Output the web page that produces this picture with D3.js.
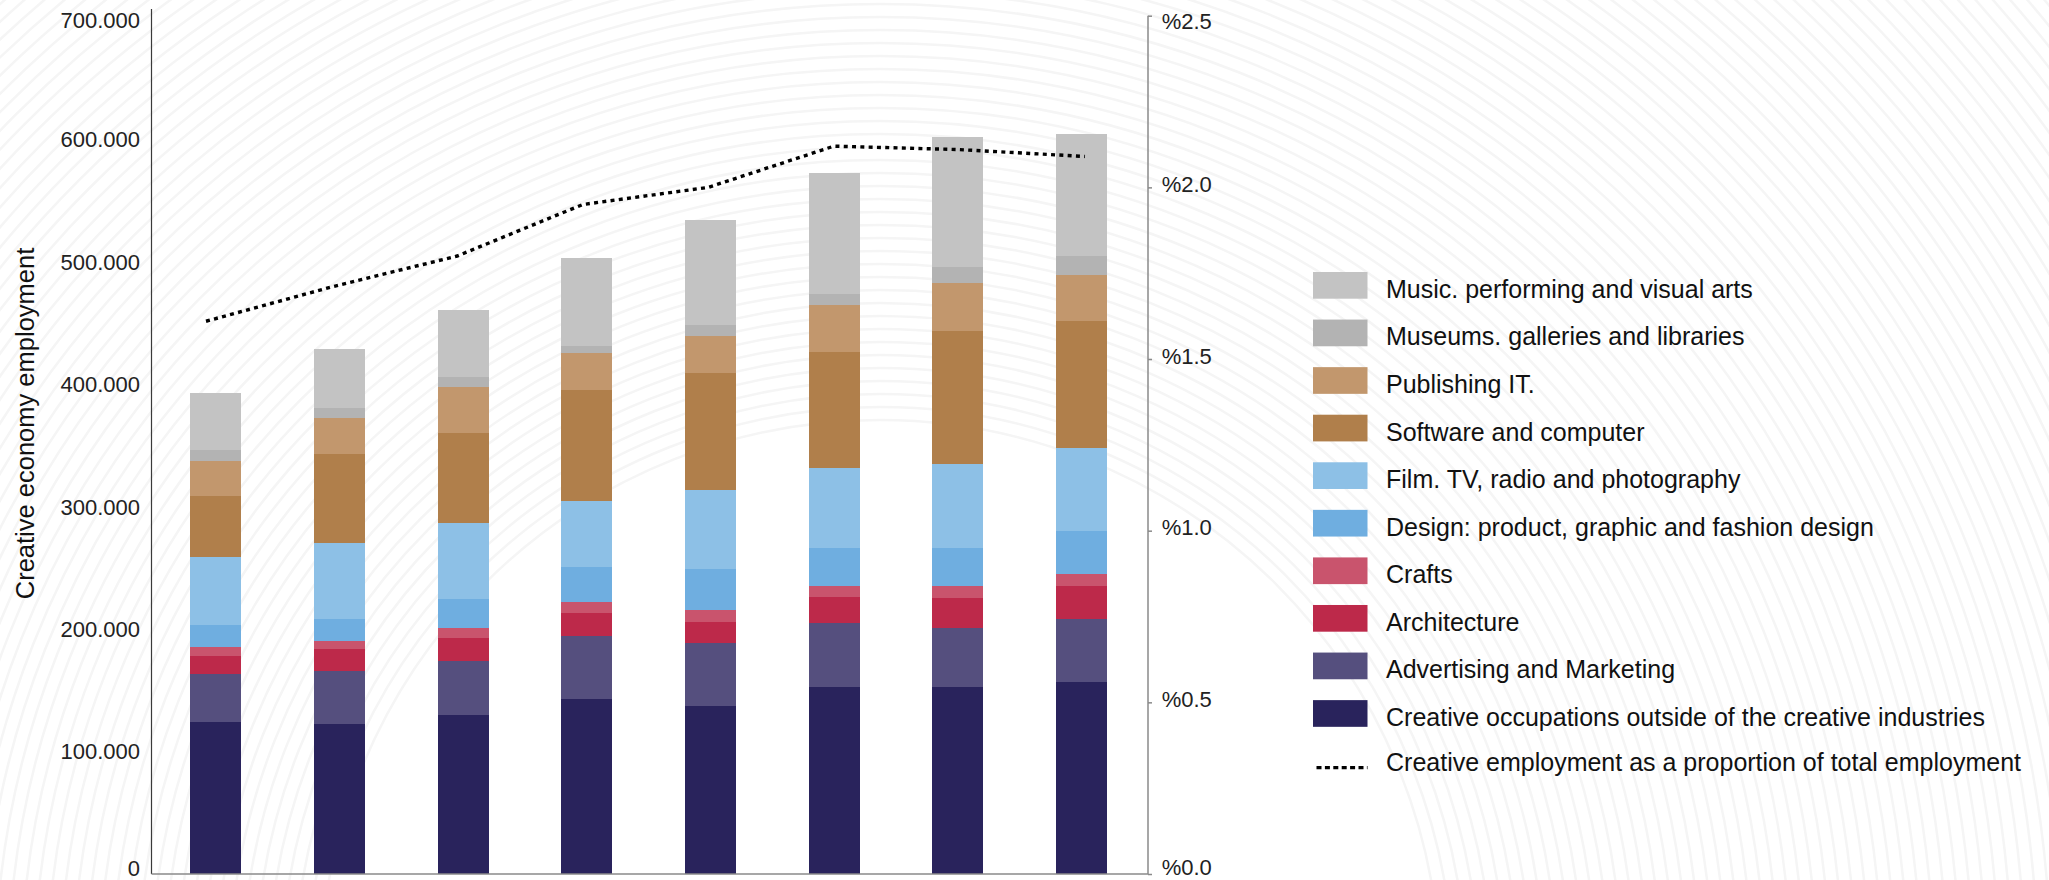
<!DOCTYPE html>
<html>
<head>
<meta charset="utf-8">
<script src="https://cdn.jsdelivr.net/npm/d3@7"></script>
<style>
  html, body { margin: 0; padding: 0; background: #ffffff; }
  svg { display: block; font-family: "Liberation Sans", Arial, Helvetica, sans-serif; }
</style>
</head>
<body>
<svg id="chart" width="2049" height="880"></svg>
<script>
// ---- data -----------------------------------------------------------------
const periods = ["P1", "P2", "P3", "P4", "P5", "P6", "P7", "P8"];

// employment by group, stacked from the bottom up
const creativeOccupations = [124200, 122600, 130000, 143000, 137300, 152900, 152900, 156900];
const advertisingMarketing = [39300, 43300, 44100, 51500, 51500, 52300, 48200, 51500];
const architecture         = [14700, 18000, 18800, 18800, 17200, 21200, 24500, 27300];
const crafts               = [7300, 6600, 8200, 9000, 9800, 9000, 9800, 9500];
const designGroup          = [18000, 17900, 23700, 28600, 33500, 31100, 31100, 35200];
const filmTvRadio          = [55600, 61900, 62100, 54000, 64600, 65400, 68600, 67800];
const softwareComputer     = [49900, 73000, 73600, 90700, 95600, 94800, 108700, 103800];
const publishing           = [28600, 29400, 37600, 30300, 30300, 38400, 39300, 37600];
const museumsLibraries     = [9000, 8200, 8100, 5700, 9000, 9000, 13100, 15600];
const musicArts            = [46600, 48200, 54800, 71900, 85800, 98900, 106200, 99700];

// creative employment as % of total employment (right axis)
const creativeShare = [1.61, 1.71, 1.80, 1.95, 2.00, 2.12, 2.11, 2.09];

const seriesNames = [
  "Creative occupations outside of the creative industries",
  "Advertising and Marketing",
  "Architecture",
  "Crafts",
  "Design: product, graphic and fashion design",
  "Film. TV, radio and photography",
  "Software and computer",
  "Publishing IT.",
  "Museums. galleries and libraries",
  "Music. performing and visual arts"
];
const seriesValues = [
  creativeOccupations, advertisingMarketing, architecture, crafts, designGroup,
  filmTvRadio, softwareComputer, publishing, museumsLibraries, musicArts
];
const seriesColors = [
  "#29235c", "#554f7e", "#bd294a", "#c9546d", "#6faee0",
  "#8dc0e6", "#b07f4b", "#c2976d", "#b3b3b3", "#c3c3c3"
];
const lineLabel = "Creative employment as a proportion of total employment";

const leftTicks = [0, 100000, 200000, 300000, 400000, 500000, 600000, 700000];
const rightTicks = [0, 0.5, 1.0, 1.5, 2.0, 2.5];
const leftTitle = "Creative economy employment";

// ---- layout ---------------------------------------------------------------
const svg = d3.select("#chart");
const axisLeftX = 151.5, axisRightX = 1148, baseY = 874;

// faint contour pattern behind everything
const backdrop = svg.append("g")
  .attr("fill", "none")
  .attr("stroke", "#f5f5f5")
  .attr("stroke-width", 2.5);
backdrop.selectAll("circle")
  .data(d3.range(560, 1700, 13))
  .join("circle")
  .attr("cx", 880).attr("cy", 980).attr("r", d => d);

// ---- scales ---------------------------------------------------------------
const x = d3.scaleBand()
  .domain(periods)
  .range([154, 1143.5])
  .paddingInner(0.588)
  .paddingOuter(0.294);

// the share line runs on its own, slightly wider, point positions
const xLine = d3.scalePoint().domain(periods).range([206, 1085]);

const y = d3.scaleLinear().domain([0, 700000]).range([baseY, 17.6]);
const y2 = d3.scaleLinear().domain([0, 2.5]).range([baseY, 15.7]);

// ---- stacked bars ---------------------------------------------------------
const table = periods.map((p, i) => {
  const row = { period: p };
  seriesNames.forEach((name, k) => { row[name] = seriesValues[k][i]; });
  return row;
});
const stacked = d3.stack().keys(seriesNames)(table);

svg.append("g")
  .selectAll("g")
  .data(stacked)
  .join("g")
  .attr("fill", (d, i) => seriesColors[i])
  .selectAll("rect")
  .data(d => d)
  .join("rect")
  .attr("shape-rendering", "crispEdges")
  .attr("x", d => x(d.data.period))
  .attr("width", x.bandwidth())
  .attr("y", d => y(d[1]))
  .attr("height", d => y(d[0]) - y(d[1]));

// ---- axes -----------------------------------------------------------------
const thousands = d3.formatLocale({ decimal: ",", thousands: ".", grouping: [3], currency: ["", ""] }).format(",");

const gLeft = svg.append("g")
  .attr("transform", `translate(${axisLeftX},0)`)
  .call(d3.axisLeft(y).tickValues(leftTicks).tickSize(0).tickPadding(11.5).tickFormat(thousands));
gLeft.select(".domain").remove();
gLeft.selectAll("text")
  .attr("font-family", "Liberation Sans, Arial, sans-serif")
  .attr("font-size", 22)
  .attr("fill", "#222")
  .attr("y", d => d === 700000 ? 3 : (d === 0 ? -6 : 0));

svg.append("line")
  .attr("x1", axisLeftX).attr("x2", axisLeftX)
  .attr("y1", 9).attr("y2", baseY)
  .attr("stroke", "#3a3a3a").attr("stroke-width", 1.2);

const gRight = svg.append("g")
  .attr("transform", `translate(${axisRightX},0)`)
  .call(d3.axisRight(y2).tickValues(rightTicks).tickSize(4).tickPadding(9.7)
    .tickFormat(d => "%" + d3.format(".1f")(d)));
gRight.select(".domain").remove();
gRight.selectAll(".tick line").attr("stroke", "#8a8a8a").attr("stroke-width", 1.5);
gRight.selectAll("text")
  .attr("font-family", "Liberation Sans, Arial, sans-serif")
  .attr("font-size", 22)
  .attr("fill", "#222")
  .attr("y", d => d === 2.5 ? 6 : (d === 0 ? -7 : -3));

svg.append("line")
  .attr("x1", axisRightX).attr("x2", axisRightX)
  .attr("y1", 15.7).attr("y2", baseY)
  .attr("stroke", "#8a8a8a").attr("stroke-width", 1.5);

svg.append("line")
  .attr("x1", axisLeftX).attr("x2", axisRightX)
  .attr("y1", baseY).attr("y2", baseY)
  .attr("stroke", "#8a8a8a").attr("stroke-width", 1.5);

svg.append("text")
  .attr("transform", "translate(34,423.5) rotate(-90)")
  .attr("text-anchor", "middle")
  .attr("font-size", 25.5)
  .attr("fill", "#111")
  .text(leftTitle);

// ---- share line -----------------------------------------------------------
const shareLine = d3.line()
  .x((d, i) => xLine(periods[i]))
  .y(d => y2(d));

svg.append("path")
  .datum(creativeShare)
  .attr("d", shareLine)
  .attr("fill", "none")
  .attr("stroke", "#000")
  .attr("stroke-width", 3.4)
  .attr("stroke-dasharray", "4 4.3");

// ---- legend ---------------------------------------------------------------
const legendTop = 272, legendStep = 47.57, swatchW = 54.5, swatchH = 26.7;
const legendX = 1313, legendTextX = 1386;
const legendOrder = d3.range(seriesNames.length).reverse();

const legend = svg.append("g");
legendOrder.forEach((k, row) => {
  const top = legendTop + row * legendStep;
  legend.append("rect")
    .attr("x", legendX).attr("y", top)
    .attr("width", swatchW).attr("height", swatchH)
    .attr("fill", seriesColors[k]);
  legend.append("text")
    .attr("x", legendTextX).attr("y", top + swatchH / 2 + 3.5)
    .attr("dominant-baseline", "central")
    .attr("font-size", 25)
    .attr("fill", "#111")
    .text(seriesNames[k]);
});
{
  const row = seriesNames.length;
  const cy = legendTop + row * legendStep + swatchH / 2;
  legend.append("line")
    .attr("x1", legendX + 3.5).attr("x2", legendX + swatchW)
    .attr("y1", cy + 6.5).attr("y2", cy + 6.5)
    .attr("stroke", "#000").attr("stroke-width", 3.3)
    .attr("stroke-dasharray", "5 3.4");
  legend.append("text")
    .attr("x", legendTextX).attr("y", cy + 1)
    .attr("dominant-baseline", "central")
    .attr("font-size", 25)
    .attr("fill", "#111")
    .text(lineLabel);
}
</script>
</body>
</html>
